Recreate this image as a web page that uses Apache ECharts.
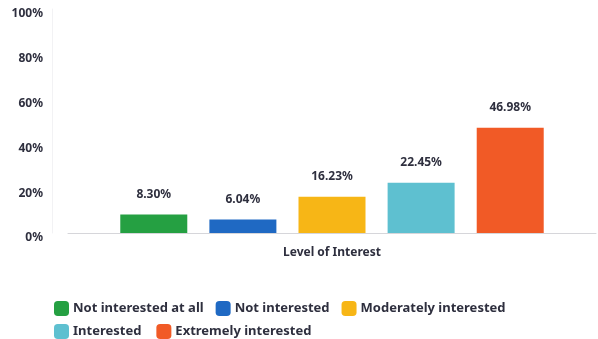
<!DOCTYPE html>
<html>
<head>
<meta charset="utf-8">
<script src="https://cdn.jsdelivr.net/npm/echarts@6/dist/echarts.min.js"></script>
<style>
  html, body { margin: 0; padding: 0; background: #fff; }
  #chart { width: 598px; height: 339px; }
</style>
</head>
<body>
<div id="chart"></div>
<script>
// Data
const categories = ['Level of Interest'];
const seriesNames = ['Not interested at all', 'Not interested', 'Moderately interested', 'Interested', 'Extremely interested'];
const seriesValues = [8.30, 6.04, 16.23, 22.45, 46.98];
const seriesColors = ['#25a042', '#1f69c3', '#f7b616', '#5ec0d0', '#f15a26'];
const yTicks = [0, 20, 40, 60, 80, 100];

const textColor = '#2e2f3e';
const fontFamily = '"Noto Sans", "Open Sans", sans-serif';

const chart = echarts.init(document.getElementById('chart'));

const series = seriesNames.map((name, i) => ({
    name: name,
    type: 'bar',
    data: [seriesValues[i]],
    barWidth: 67,
    barGap: '33%',
    itemStyle: { color: seriesColors[i] },
    label: {
        show: true,
        position: 'top',
        distance: 14,
        formatter: p => p.value.toFixed(2) + '%',
        color: textColor,
        fontFamily: fontFamily,
        fontWeight: 'bold',
        fontSize: 12
    }
}));

// grid is shifted right so the single category centres at x=332; the y axis is pulled back with offset
chart.setOption({
    animation: false,
    textStyle: { fontFamily: fontFamily },
    grid: { left: 68, top: 9, right: 2, bottom: 106, containLabel: false },
    xAxis: {
        type: 'category',
        data: categories,
        axisLine: { lineStyle: { color: '#d6d6da' } },
        axisTick: { show: false },
        axisLabel: { margin: 14, color: textColor, fontSize: 12, fontWeight: 'bold' }
    },
    yAxis: {
        type: 'value',
        min: yTicks[0],
        max: yTicks[yTicks.length - 1],
        interval: 20,
        offset: 16,
        axisLine: { show: true, lineStyle: { color: '#f2f2f4' } },
        axisTick: { show: false },
        splitLine: { show: false },
        axisLabel: {
            margin: 9,
            verticalAlign: 'top',
            lineHeight: 10,
            color: textColor,
            fontSize: 12,
            fontWeight: 'bold',
            formatter: v => v + '%'
        }
    },
    legend: [
        {
            data: seriesNames.slice(0, 3),
            left: 49, top: 296,
            icon: 'roundRect',
            itemWidth: 15, itemHeight: 15, itemGap: 12,
            textStyle: { color: textColor, fontSize: 13, fontWeight: 'bold', padding: [0, 0, 0, -1] }
        },
        {
            data: seriesNames.slice(3),
            left: 49, top: 319,
            icon: 'roundRect',
            itemWidth: 15, itemHeight: 15, itemGap: 15,
            textStyle: { color: textColor, fontSize: 13, fontWeight: 'bold', padding: [0, 0, 0, -1] }
        }
    ],
    series: series
});
</script>
</body>
</html>
